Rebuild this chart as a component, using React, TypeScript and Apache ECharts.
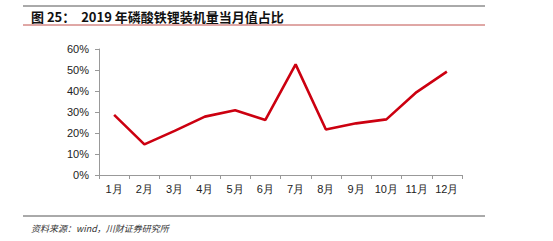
import React, { useEffect, useRef } from "react";
import * as echarts from "echarts";

const months = ["1月", "2月", "3月", "4月", "5月", "6月", "7月", "8月", "9月", "10月", "11月", "12月"];
const shareValues = [28.6, 14.6, 21.0, 27.8, 30.8, 26.2, 52.7, 21.7, 24.6, 26.5, 39.5, 49.2];
const titleText = "图 25：  2019 年磷酸铁锂装机量当月值占比";
const sourceText = "资料来源：wind，川财证券研究所";

export default function App() {
  const ref = useRef<HTMLDivElement>(null);
  useEffect(() => {
    if (!ref.current) return;
    const chart = echarts.init(ref.current, null, { renderer: "svg" });
    chart.setOption({
      animation: false,
      backgroundColor: "#ffffff",
      grid: { left: 99, right: 91, top: 49, bottom: 66, containLabel: false },
      xAxis: {
        type: "category",
        data: months,
        boundaryGap: true,
        axisLine: { lineStyle: { color: "#999999", width: 1 } },
        axisTick: { show: true, length: 4, lineStyle: { color: "#999999" }, alignWithLabel: false },
        axisLabel: { color: "#222222", fontSize: 11, fontFamily: "Liberation Sans", margin: 8, interval: 0 },
        splitLine: { show: false },
      },
      yAxis: {
        type: "value",
        min: 0,
        max: 60,
        interval: 10,
        axisLine: { show: true, lineStyle: { color: "#999999", width: 1 } },
        axisTick: { show: true, length: 4, lineStyle: { color: "#999999" } },
        axisLabel: { color: "#222222", fontSize: 11, fontFamily: "Liberation Sans", margin: 10, formatter: "{value}%" },
        splitLine: { show: false },
      },
      series: [
        {
          type: "line",
          data: shareValues,
          symbol: "none",
          lineStyle: { color: "#cc0010", width: 2.6 },
        },
      ],
      graphic: [
        { type: "line", shape: { x1: 23, y1: 6, x2: 485, y2: 6 }, style: { stroke: "#555555", lineWidth: 1 } },
        {
          type: "text",
          x: 31,
          y: 16,
          style: {
            text: titleText,
            fill: "#111111",
            font: "bold 13px 'Noto Sans CJK SC'",
            verticalAlign: "middle",
          },
        },
        { type: "line", shape: { x1: 23, y1: 25, x2: 485, y2: 25 }, style: { stroke: "#c0504d", lineWidth: 1 } },
        { type: "line", shape: { x1: 23, y1: 216, x2: 485, y2: 216 }, style: { stroke: "#555555", lineWidth: 1 } },
        {
          type: "text",
          x: 31,
          y: 228,
          style: {
            text: sourceText,
            fill: "#333333",
            font: "italic 9px 'Noto Sans CJK SC'",
            verticalAlign: "middle",
          },
        },
      ],
    });
    return () => chart.dispose();
  }, []);
  return (
    <div
      ref={ref}
      style={{ position: "fixed", left: 0, top: 0, width: 553, height: 241, background: "#fff" }}
    />
  );
}
